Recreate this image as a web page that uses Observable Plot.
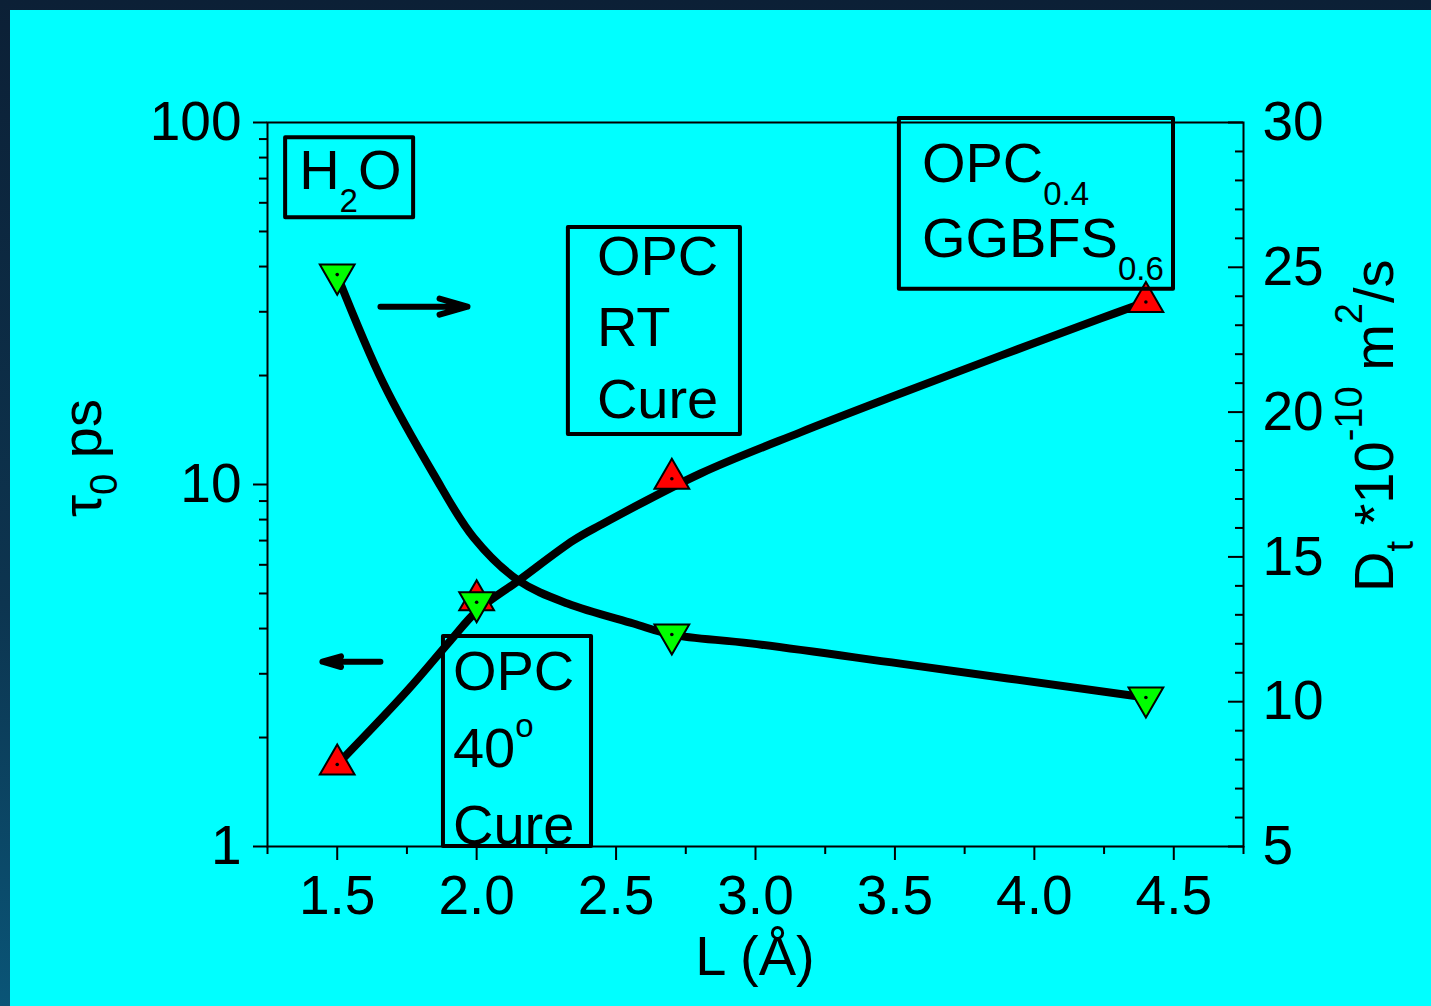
<!DOCTYPE html>
<html><head><meta charset="utf-8">
<script src="https://cdn.jsdelivr.net/npm/d3@7"></script>
<script src="https://cdn.jsdelivr.net/npm/@observablehq/plot@0.6"></script>
<style>
html,body{margin:0;padding:0;width:1431px;height:1006px;overflow:hidden;background:#0c2238;}
#wrap{position:relative;width:1431px;height:1006px;background:linear-gradient(to bottom,#0c2036 0%,#0d3550 60%,#0a5577 100%);}
#bg{position:absolute;left:10px;top:10px;right:0;bottom:0;background:#00ffff;}
.layer{position:absolute;left:0;top:0;}
text{white-space:pre;}
</style></head><body><div id="wrap"><div id="bg"></div></div>
<script>
// ---- data ----
const L = [1.5, 2.0, 2.7, 4.4];
const tau0 = [38, 4.73, 3.85, 2.58];          // left axis (log), green down triangles
const Dt = [7.83, 13.5, 17.7, 23.8];          // right axis, red up triangles
const tauFitL = [1.50, 1.666, 1.845, 1.989, 2.15, 2.326, 2.562, 2.70, 2.982, 3.52, 4.40];
const tauFit  = [37.8, 19.0, 10.7, 7.14, 5.43, 4.69, 4.13, 3.85, 3.64, 3.20, 2.58];
const dtFitL = [1.50, 1.752, 1.906, 2.003, 2.15, 2.347, 2.444, 2.803, 3.161, 3.52, 3.879, 4.237, 4.40];
const dtFit  = [7.83, 10.39, 12.11, 13.15, 14.18, 15.57, 16.1, 17.88, 19.3, 20.64, 21.95, 23.23, 23.8];
const xTicks = [1.5, 2.0, 2.5, 3.0, 3.5, 4.0, 4.5];
const xMinor = [1.25, 1.75, 2.25, 2.75, 3.25, 3.75, 4.25, 4.75];
const yLeftTicks = [1, 10, 100];
const yLeftMinor = [2,3,4,5,6,7,8,9,20,30,40,50,60,70,80,90];
const yRightTicks = [5, 10, 15, 20, 25, 30];
const yRightMinor = [6,7,8,9,11,12,13,14,16,17,18,19,21,22,23,24,26,27,28,29];
const xLabel = "L (Å)";
// annotation boxes (data coordinates, left log axis)
const boxes = [
  {x1: 1.315, x2: 1.774, y1: 54.6, y2: 90.8},
  {x1: 2.329, x2: 2.946, y1: 13.75, y2: 51.3},
  {x1: 1.881, x2: 2.412, y1: 1, y2: 3.80},
  {x1: 3.516, x2: 4.499, y1: 34.6, y2: 102.6}
];
const boxTexts = [
  [[{t:"H"},{t:"2",sub:true},{t:"O"}]],
  [[{t:"OPC"}],[{t:"RT"}],[{t:"Cure"}]],
  [[{t:"OPC"}],[{t:"40"},{t:"o",sup:true}],[{t:"Cure"}]],
  [[{t:"OPC"},{t:"0.4",sub:true}],[{t:"GGBFS"},{t:"0.6",sub:true}]]
];
const arrows = [
  {x1: 1.655, x2: 1.967, y1: 31.0, y2: 31.0},
  {x1: 1.655, x2: 1.447, y1: 3.24, y2: 3.24}
];

// ---- layout / style ----
const FONT = "'Liberation Sans', Arial, Helvetica, sans-serif";
const boxLayout = [
  {padLeft: 14, first: 52, lh: 0},
  {padLeft: 29, first: 48, lh: 71.5},
  {padLeft: 10, first: 54, lh: 77},
  {padLeft: 23, first: 64, lh: 75}
];
const W = 1431, H = 1006;
const base = {
  width: W, height: H, marginLeft: 267, marginRight: 188, marginTop: 122, marginBottom: 160,
  style: {background: "transparent", fontFamily: FONT, fontSize: "55px", color: "black", overflow: "visible"}
};
const xDom = [1.25, 4.75];
const pts = L.map((x, i) => ({x, tau: tau0[i], D: Dt[i]}));
const tauLine = tauFitL.map((x, i) => ({x, y: tauFit[i]}));
const dtLine = dtFitL.map((x, i) => ({x, y: dtFit[i]}));

const A = Plot.plot({
  ...base,
  x: {domain: xDom},
  y: {type: "log", domain: [1, 100]},
  marks: [
    Plot.frame({stroke: "black", strokeWidth: 2}),
    Plot.axisX(xTicks, {tickSize: 14, tickPadding: 14, tickFormat: d3.format(".1f"), strokeWidth: 2, label: null, fontSize: 55}),
    Plot.axisX(xMinor, {tickSize: 8, tickFormat: () => "", strokeWidth: 2, label: null}),
    Plot.axisY(yLeftTicks, {tickSize: 14, tickPadding: 12, tickFormat: d => String(d), strokeWidth: 2, label: null, fontSize: 55}),
    Plot.axisY(yLeftMinor, {tickSize: 8, tickFormat: () => "", strokeWidth: 2, label: null}),
    Plot.line(tauLine, {x: "x", y: "y", curve: "catmull-rom", strokeWidth: 8, stroke: "black"})
  ]
});

const B = Plot.plot({
  ...base,
  x: {domain: xDom, axis: null},
  y: {domain: [5, 30]},
  marks: [
    Plot.axisY(yRightTicks, {anchor: "right", tickSize: 0, tickPadding: 19, label: null, fontSize: 55}),
    Plot.ruleY(yRightTicks, {insetLeft: 961, strokeWidth: 2}),
    Plot.ruleY(yRightMinor, {insetLeft: 968, strokeWidth: 2}),
    Plot.line(dtLine, {x: "x", y: "y", curve: "catmull-rom", strokeWidth: 8, stroke: "black"}),
    Plot.dot(pts, {x: "x", y: "D", symbol: "triangle", r: 12.9, fill: "#ff0000", stroke: "black", strokeWidth: 2}),
    Plot.dot(pts, {x: "x", y: "D", r: 1.8, fill: "black", stroke: "none"})
  ]
});

const C = Plot.plot({
  ...base,
  x: {domain: xDom, axis: null},
  y: {type: "log", domain: [1, 100], axis: null},
  marks: [
    Plot.rect(boxes, {x1: "x1", x2: "x2", y1: "y1", y2: "y2", fill: "none", stroke: "black", strokeWidth: 4, strokeLinejoin: "round"}),
    Plot.arrow(arrows, {x1: "x1", y1: "y1", x2: "x2", y2: "y2", strokeWidth: 6, headAngle: 32, headLength: 26, strokeLinecap: "round", strokeLinejoin: "round"}),
    Plot.dot(pts, {x: "x", y: "tau", symbol: "triangle", rotate: 180, r: 12.9, fill: "#00ff00", stroke: "black", strokeWidth: 2}),
    Plot.dot(pts, {x: "x", y: "tau", r: 1.8, fill: "black", stroke: "none"})
  ]
});

for (const s of [A, B, C]) { s.classList.add("layer"); document.getElementById("wrap").appendChild(s); }

function rich(svg, x, y, parts, {size = 55, small = 33, subShift = 23, supShift = -28, rotate = 0, anchor = "start"} = {}) {
  const t = d3.select(svg).append("text")
    .attr("transform", `translate(${x},${y}) rotate(${rotate})`)
    .attr("text-anchor", anchor)
    .attr("font-family", FONT).attr("font-size", size).attr("fill", "black");
  let cur = 0;
  for (const p of parts) {
    const target = p.sub ? subShift : p.sup ? supShift : 0;
    t.append("tspan").attr("dy", target - cur).attr("font-size", (p.sub || p.sup) ? small : size).text(p.t);
    cur = target;
  }
  return t;
}

// annotation text inside boxes
const sx = C.scale("x"), sy = C.scale("y");
boxes.forEach((b, i) => {
  const left = sx.apply(b.x1), top = sy.apply(b.y2), lay = boxLayout[i];
  boxTexts[i].forEach((line, j) => {
    rich(C, left + lay.padLeft, top + lay.first + j * lay.lh, line, {size: 56, small: 33, subShift: 23, supShift: -30});
  });
});

// axis titles
rich(A, 755, 975, [{t: xLabel}], {size: 56, anchor: "middle"});
rich(A, 101, 517, [{t: "τ"}, {t: "0", sub: true}, {t: " ps"}], {size: 56, small: 38, subShift: 16, rotate: -90});
rich(A, 1393, 592, [{t: "D"}, {t: "t", sub: true}, {t: " *10"}, {t: "-10", sup: true}, {t: " m"}, {t: "2", sup: true}, {t: "/s"}],
  {size: 56, small: 38, subShift: 20, supShift: -31, rotate: -90});
</script></body></html>
